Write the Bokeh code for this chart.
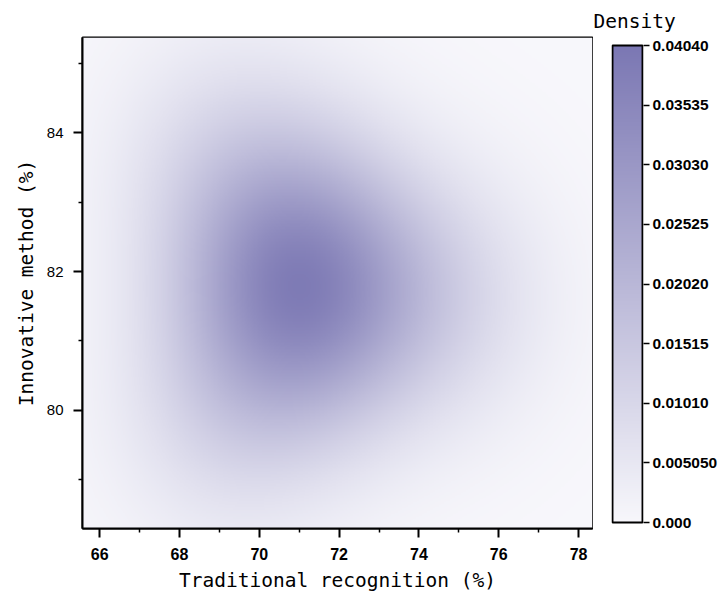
import numpy as np
from bokeh.plotting import figure
from bokeh.models import Range1d, FixedTicker, LinearColorMapper, Title
from bokeh.layouts import row
from bokeh.embed import file_html
from bokeh.resources import INLINE

# ---- data -------------------------------------------------------------
# observations (Traditional recognition %, Innovative method %) behind the density
trad_obs = [69.0, 69.0, 69.8, 70.9, 71.2, 71.2, 72.8, 74.8, 71.0]
innov_obs = [83.6, 79.9, 81.7, 81.8, 82.8, 80.8, 81.7, 81.6, 81.9]
bw_trad = 1.9
bw_innov = 1.3

x_limits = [65.57, 78.35]
y_limits = [78.30, 85.37]
x_ticks = [66, 68, 70, 72, 74, 76, 78]
x_minor = [67, 69, 71, 73, 75, 77]
y_ticks = [80, 82, 84]
y_minor = [79, 81, 83, 85]

density_max = 0.0404
cbar_ticks = [0.0, 0.00505, 0.0101, 0.01515, 0.0202, 0.02525, 0.0303, 0.03535, 0.0404]
cbar_labels = ["0.000", "0.005050", "0.01010", "0.01515", "0.02020",
               "0.02525", "0.03030", "0.03535", "0.04040"]

x_title = "Traditional recognition (%)"
y_title = "Innovative method (%)"
bar_title = "Density"

# ---- kernel density estimate on a grid --------------------------------
gx = np.linspace(x_limits[0], x_limits[1], 420)
gy = np.linspace(y_limits[0], y_limits[1], 330)
X, Y = np.meshgrid(gx, gy)
dens = np.zeros_like(X)
for xi, yi in zip(trad_obs, innov_obs):
    dens += np.exp(-0.5 * (((X - xi) / bw_trad) ** 2 + ((Y - yi) / bw_innov) ** 2))
dens /= len(trad_obs) * 2 * np.pi * bw_trad * bw_innov

# ---- colour map ------------------------------------------------------
lo = np.array([247, 247, 251], dtype=float)
hi = np.array([123, 119, 179], dtype=float)
palette = ["#%02x%02x%02x" % tuple(int(round(c)) for c in lo + (hi - lo) * t)
           for t in np.linspace(0, 1, 256)]
mapper = LinearColorMapper(palette=palette, low=0, high=density_max)

LABEL_FONT = "DejaVu Sans Mono"

# ---- main plot --------------------------------------------------------
p = figure(width=593, height=596,
           x_range=Range1d(*x_limits), y_range=Range1d(*y_limits),
           output_backend="svg", toolbar_location=None,
           min_border_left=82, min_border_right=1,
           min_border_top=37, min_border_bottom=68)
p.image(image=[dens], x=x_limits[0], y=y_limits[0],
        dw=x_limits[1] - x_limits[0], dh=y_limits[1] - y_limits[0],
        color_mapper=mapper)
p.grid.visible = False
p.outline_line_color = "black"
p.outline_line_width = 2
p.background_fill_color = "white"
p.border_fill_color = "white"

p.xaxis.ticker = FixedTicker(ticks=x_ticks, minor_ticks=x_minor)
p.yaxis.ticker = FixedTicker(ticks=y_ticks, minor_ticks=y_minor)
for ax in (p.xaxis[0], p.yaxis[0]):
    ax.axis_line_color = "black"
    ax.axis_line_width = 2
    ax.major_tick_line_color = "black"
    ax.major_tick_line_width = 2
    ax.minor_tick_line_color = "black"
    ax.minor_tick_line_width = 1.5
    ax.major_tick_in = 0
    ax.major_tick_out = 9
    ax.minor_tick_in = 0
    ax.minor_tick_out = 4
    ax.axis_label_text_font = LABEL_FONT
    ax.axis_label_text_font_style = "normal"
    ax.axis_label_text_font_size = "19.5px"
    ax.axis_label_text_color = "black"
    ax.axis_label_text_line_height = 1.0
    ax.major_label_text_color = "black"
    ax.major_label_text_line_height = 1.0

p.xaxis.axis_label = x_title
p.yaxis.axis_label = y_title
p.xaxis.major_label_text_font = "Liberation Sans"
p.xaxis.major_label_text_font_style = "bold"
p.xaxis.major_label_text_font_size = "16px"
p.xaxis.major_label_standoff = 10
p.xaxis.axis_label_standoff = 6
p.yaxis.major_label_text_font = "Liberation Sans"
p.yaxis.major_label_text_font_size = "15px"
p.yaxis.major_label_standoff = 10
p.yaxis.axis_label_standoff = 6

# ---- colour bar as its own small plot ---------------------------------
BAR_H = 477
vpp = density_max / BAR_H  # density per pixel on the bar
bar_vals = np.linspace(0, density_max, 256).reshape(256, 1)
cb = figure(width=127, height=596,
            x_range=Range1d(-1 / 31, 1 + 1 / 31),
            y_range=Range1d(-6 * vpp, density_max + 8 * vpp),
            output_backend="svg", toolbar_location=None,
            x_axis_location=None, y_axis_location="right",
            min_border_left=18, min_border_right=76,
            min_border_top=37, min_border_bottom=68)
cb.image(image=[bar_vals], x=0, y=0, dw=1, dh=density_max, color_mapper=mapper)
cb.quad(left=[0], right=[1], bottom=[0], top=[density_max],
        fill_color=None, line_color="black", line_width=2)
cb.grid.visible = False
cb.outline_line_color = None
cb.border_fill_color = "white"
cb.background_fill_color = "white"
ya = cb.yaxis[0]
ya.ticker = FixedTicker(ticks=cbar_ticks, minor_ticks=[])
ya.major_label_overrides = {v: s for v, s in zip(cbar_ticks, cbar_labels)}
ya.axis_line_color = None
ya.major_tick_line_color = "black"
ya.major_tick_line_width = 1.5
ya.major_tick_in = 0
ya.major_tick_out = 6
ya.major_label_standoff = 3
ya.major_label_text_font = "Liberation Sans"
ya.major_label_text_font_style = "bold"
ya.major_label_text_font_size = "15.5px"
ya.major_label_text_color = "black"

cb.add_layout(Title(text=bar_title, align="left", offset=-18, standoff=9,
                    text_font=LABEL_FONT, text_font_style="normal",
                    text_font_size="19.5px", text_color="black"), "above")

layout = row(p, cb)
open("out.html", "w").write(file_html(layout, INLINE))
